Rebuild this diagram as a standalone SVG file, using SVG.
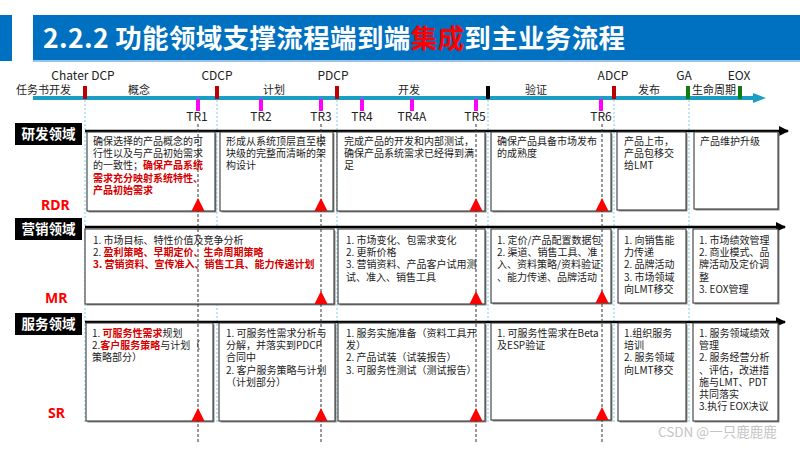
<svg xmlns="http://www.w3.org/2000/svg" width="800" height="450" viewBox="0 0 800 450">
<defs>
<style>
.f{font-family:"Noto Sans CJK SC","Noto Sans",sans-serif}
.t{font-family:"Noto Sans CJK SC","Noto Sans",sans-serif;font-size:10px;fill:#222}
.r{fill:#d40000;font-weight:bold}
.box{fill:#fff;stroke:#3a3a3a;stroke-width:1.1}
.sh{fill:#8c8c8c}
.tri{fill:#ff0000}
.lbl{font-family:"Noto Sans CJK SC","Noto Sans",sans-serif;font-size:12px;fill:#222}
.ph{font-family:"Noto Sans CJK SC","Noto Sans",sans-serif;font-size:11px;fill:#222}
.rowlab{fill:#000}
.rowtxt{font-family:"Noto Sans CJK SC",sans-serif;font-size:13.5px;font-weight:bold;fill:#fff}
.code{font-family:"Noto Sans","Noto Sans CJK SC",sans-serif;font-size:14px;font-weight:bold;fill:#ff0000}
.vb{stroke:#7ccfe6;stroke-width:1;stroke-dasharray:2 2}
.vk{stroke:#333;stroke-width:1;stroke-dasharray:3 2}
.rowline{stroke:#000;stroke-width:2.5}
</style>
<marker id="ah" viewBox="0 0 10 10" refX="9" refY="5" markerWidth="4" markerHeight="4" orient="auto" markerUnits="strokeWidth"><path d="M0,0 L10,5 L0,10 z" fill="#000"/></marker>
</defs>

<g id="header">
<rect x="0" y="15" width="12" height="46" fill="#0070c0"/>
<rect x="33" y="15" width="767" height="46" fill="#0070c0"/>
<rect x="33" y="60" width="767" height="2" fill="#9dc3e6"/>
<text x="43" y="48" class="f" font-size="26.5" letter-spacing="0.35" font-weight="bold" fill="#fff">2.2.2 功能领域支撑流程端到端<tspan fill="#ff0000">集成</tspan>到主业务流程</text>
</g>

<g id="guides">
<line class="vb" x1="85" y1="100" x2="85" y2="422"/>
<line class="vb" x1="217" y1="100" x2="217" y2="422"/>
<line class="vb" x1="337" y1="100" x2="337" y2="422"/>
<line class="vb" x1="488" y1="100" x2="488" y2="422"/>
<line class="vb" x1="614" y1="100" x2="614" y2="422"/>
<line class="vb" x1="689" y1="100" x2="689" y2="422"/>
</g>

<g id="timeline">
<line x1="33" y1="98" x2="756" y2="98" stroke="#1a9ec4" stroke-width="4"/>
<path d="M753,93 L766,98 L753,103 z" fill="#1a9ec4"/>
<rect x="83" y="86" width="4" height="13" fill="#c00000"/>
<rect x="215" y="86" width="4" height="13" fill="#c00000"/>
<rect x="335" y="86" width="4" height="13" fill="#c00000"/>
<rect x="486" y="86" width="4" height="13" fill="#000"/>
<rect x="612" y="86" width="4" height="13" fill="#c00000"/>
<rect x="686" y="86" width="4" height="13" fill="#107c10"/>
<rect x="738" y="86" width="4" height="13" fill="#107c10"/>
<rect x="196" y="99" width="4" height="12" fill="#ff00ff"/>
<rect x="259" y="99" width="4" height="12" fill="#ff00ff"/>
<rect x="319" y="99" width="4" height="12" fill="#ff00ff"/>
<rect x="360" y="99" width="4" height="12" fill="#ff00ff"/>
<rect x="410" y="99" width="4" height="12" fill="#ff00ff"/>
<rect x="474" y="99" width="4" height="12" fill="#ff00ff"/>
<rect x="599" y="99" width="4" height="12" fill="#ff00ff"/>
<text class="lbl" x="83" y="80" text-anchor="middle">Chater DCP</text>
<text class="lbl" x="217" y="80" text-anchor="middle">CDCP</text>
<text class="lbl" x="333" y="80" text-anchor="middle">PDCP</text>
<text class="lbl" x="613" y="80" text-anchor="middle">ADCP</text>
<text class="lbl" x="684" y="80" text-anchor="middle">GA</text>
<text class="lbl" x="739" y="80" text-anchor="middle">EOX</text>
<text class="ph" x="16" y="94">任务书开发</text>
<text class="ph" x="128" y="94">概念</text>
<text class="ph" x="263" y="94">计划</text>
<text class="ph" x="398" y="94">开发</text>
<text class="ph" x="525" y="94">验证</text>
<text class="ph" x="638" y="94">发布</text>
<text class="ph" x="692" y="94">生命周期</text>
<text class="lbl" x="197" y="121" text-anchor="middle">TR1</text>
<text class="lbl" x="261" y="121" text-anchor="middle">TR2</text>
<text class="lbl" x="321" y="121" text-anchor="middle">TR3</text>
<text class="lbl" x="362" y="121" text-anchor="middle">TR4</text>
<text class="lbl" x="412" y="121" text-anchor="middle">TR4A</text>
<text class="lbl" x="475" y="121" text-anchor="middle">TR5</text>
<text class="lbl" x="601" y="121" text-anchor="middle">TR6</text>
</g>

<g id="connectors">
<line class="rowline" x1="85" y1="131" x2="788" y2="131" marker-end="url(#ah)"/>
<line class="rowline" x1="85" y1="227" x2="785" y2="227" marker-end="url(#ah)"/>
<line class="rowline" x1="85" y1="322" x2="785" y2="322" marker-end="url(#ah)"/>
</g>

<g id="lab-rd"><rect class="rowlab" x="15" y="123" width="67" height="22"/><text class="rowtxt" x="48.5" y="139" text-anchor="middle">研发领域</text><text class="code" x="41" y="210">RDR</text></g>
<g id="lab-mk"><rect class="rowlab" x="15" y="218" width="67" height="22"/><text class="rowtxt" x="48.5" y="234" text-anchor="middle">营销领域</text><text class="code" x="45" y="303">MR</text></g>
<g id="lab-sv"><rect class="rowlab" x="15" y="313" width="67" height="22"/><text class="rowtxt" x="48.5" y="329" text-anchor="middle">服务领域</text><text class="code" x="48" y="418">SR</text></g>

<g id="rd1"><rect class="sh" x="88.5" y="133.5" width="128" height="79"/><rect class="box" x="87" y="132" width="128" height="79"/>
<text class="t" x="93" y="145">确保选择的产品概念的可</text>
<text class="t" x="93" y="157.2">行性以及与产品初始需求</text>
<text class="t" x="93" y="169.4">的一致性；<tspan class="r">确保产品系统</tspan></text>
<text class="t r" x="93" y="181.6">需求充分映射系统特性、</text>
<text class="t r" x="93" y="193.8">产品初始需求</text></g>
<g id="rd2"><rect class="sh" x="221.5" y="133.5" width="113" height="79"/><rect class="box" x="220" y="132" width="113" height="79"/>
<text class="t" x="226" y="145">形成从系统顶层直至模</text>
<text class="t" x="226" y="157.2">块级的完整而清晰的架</text>
<text class="t" x="226" y="169.4">构设计</text></g>
<g id="rd3"><rect class="sh" x="338.5" y="133.5" width="148" height="79"/><rect class="box" x="337" y="132" width="148" height="79"/>
<text class="t" x="344" y="145">完成产品的开发和内部测试，</text>
<text class="t" x="344" y="157.2">确保产品系统需求已经得到满</text>
<text class="t" x="344" y="169.4">足</text></g>
<g id="rd4"><rect class="sh" x="492.5" y="133.5" width="120" height="79"/><rect class="box" x="491" y="132" width="120" height="79"/>
<text class="t" x="497" y="145">确保产品具备市场发布</text>
<text class="t" x="497" y="157.2">的成熟度</text></g>
<g id="rd5"><rect class="sh" x="618.5" y="133.5" width="69" height="78"/><rect class="box" x="617" y="132" width="69" height="78"/>
<text class="t" x="624" y="145">产品上市，</text>
<text class="t" x="624" y="157.2">产品包移交</text>
<text class="t" x="624" y="169.4">给LMT</text></g>
<g id="rd6"><rect class="sh" x="695.5" y="133.5" width="84" height="77"/><rect class="box" x="694" y="132" width="84" height="77"/>
<text class="t" x="700" y="145">产品维护升级</text></g>

<g id="mk1"><rect class="sh" x="86.5" y="230.5" width="249" height="75"/><rect class="box" x="85" y="229" width="249" height="75"/>
<text class="t" x="93" y="244">1. 市场目标、特性价值及竞争分析</text>
<text class="t" x="93" y="256.2">2. <tspan class="r">盈利策略、早期定价、生命周期策略</tspan></text>
<text class="t r" x="93" y="268.4">3. 营销资料、宣传准入、销售工具、能力传递计划</text></g>
<g id="mk2"><rect class="sh" x="339.5" y="230.5" width="147" height="75"/><rect class="box" x="338" y="229" width="147" height="75"/>
<text class="t" x="346" y="244">1. 市场变化、包需求变化</text>
<text class="t" x="346" y="256.2">2. 更新价格</text>
<text class="t" x="346" y="268.4">3. 营销资料、产品客户试用测</text>
<text class="t" x="346" y="280.6">试、准入、销售工具</text></g>
<g id="mk3"><rect class="sh" x="492.5" y="230.5" width="120" height="74"/><rect class="box" x="491" y="229" width="120" height="74"/>
<text class="t" x="497" y="244">1. 定价/产品配置数据包</text>
<text class="t" x="497" y="256.2">2. 渠道、销售工具、准</text>
<text class="t" x="497" y="268.4">入、资料策略/资料验证</text>
<text class="t" x="497" y="280.6">、能力传递、品牌活动</text></g>
<g id="mk4"><rect class="sh" x="619.5" y="230.5" width="68" height="74"/><rect class="box" x="618" y="229" width="68" height="74"/>
<text class="t" x="624" y="244">1. 向销售能</text>
<text class="t" x="624" y="256.2">力传递</text>
<text class="t" x="624" y="268.4">2. 品牌活动</text>
<text class="t" x="624" y="280.6">3. 市场领域</text>
<text class="t" x="624" y="292.8">向LMT移交</text></g>
<g id="mk5"><rect class="sh" x="694.5" y="230.5" width="85" height="74"/><rect class="box" x="693" y="229" width="85" height="74"/>
<text class="t" x="699" y="244">1. 市场绩效管理</text>
<text class="t" x="699" y="256.2">2. 商业模式、品</text>
<text class="t" x="699" y="268.4">牌活动及定价调</text>
<text class="t" x="699" y="280.6">整</text>
<text class="t" x="699" y="292.8">3. EOX管理</text></g>

<g id="sv1"><rect class="sh" x="87.5" y="324.5" width="127" height="98"/><rect class="box" x="86" y="323" width="127" height="98"/>
<text class="t" x="92" y="337">1. <tspan class="r">可服务性需求</tspan>规划</text>
<text class="t" x="92" y="349.2">2.<tspan class="r">客户服务策略</tspan>与计划（</text>
<text class="t" x="92" y="361.4">策略部分）</text></g>
<g id="sv2"><rect class="sh" x="220.5" y="324.5" width="116" height="98"/><rect class="box" x="219" y="323" width="116" height="98"/>
<text class="t" x="226" y="337">1. 可服务性需求分析与</text>
<text class="t" x="226" y="349.2">分解，并落实到PDCP</text>
<text class="t" x="226" y="361.4">合同中</text>
<text class="t" x="226" y="373.6">2. 客户服务策略与计划</text>
<text class="t" x="226" y="385.8">（计划部分）</text></g>
<g id="sv3"><rect class="sh" x="339.5" y="324.5" width="147" height="98"/><rect class="box" x="338" y="323" width="147" height="98"/>
<text class="t" x="346" y="337">1. 服务实施准备（资料工具开</text>
<text class="t" x="346" y="349.2">发）</text>
<text class="t" x="346" y="361.4">2. 产品试装（试装报告）</text>
<text class="t" x="346" y="373.6">3. 可服务性测试（测试报告）</text></g>
<g id="sv4"><rect class="sh" x="492.5" y="324.5" width="120" height="97"/><rect class="box" x="491" y="323" width="120" height="97"/>
<text class="t" x="497" y="337">1. 可服务性需求在Beta</text>
<text class="t" x="497" y="349.2">及ESP验证</text></g>
<g id="sv5"><rect class="sh" x="619.5" y="324.5" width="68" height="98"/><rect class="box" x="618" y="323" width="68" height="98"/>
<text class="t" x="624" y="337">1.组织服务</text>
<text class="t" x="624" y="349.2">培训</text>
<text class="t" x="624" y="361.4">2. 服务领域</text>
<text class="t" x="624" y="373.6">向LMT移交</text></g>
<g id="sv6"><rect class="sh" x="694.5" y="324.5" width="85" height="98"/><rect class="box" x="693" y="323" width="85" height="98"/>
<text class="t" x="699" y="337">1. 服务领域绩效</text>
<text class="t" x="699" y="349.2">管理</text>
<text class="t" x="699" y="361.4">2. 服务经营分析</text>
<text class="t" x="699" y="373.6">、评估，改进措</text>
<text class="t" x="699" y="385.8">施与LMT、PDT</text>
<text class="t" x="699" y="398">共同落实</text>
<text class="t" x="699" y="410.2">3.执行 EOX决议</text></g>

<g id="tr-lines">
<line class="vk" x1="198" y1="124" x2="198" y2="444"/>
<line class="vk" x1="321" y1="124" x2="321" y2="444"/>
<line class="vk" x1="476" y1="124" x2="476" y2="444"/>
<line class="vk" x1="602" y1="124" x2="602" y2="444"/>
</g>

<g id="triangles">
<path class="tri" d="M191.5,211 L204.5,211 L198,198 z"/>
<path class="tri" d="M314.5,211 L327.5,211 L321,198 z"/>
<path class="tri" d="M469.5,211 L482.5,211 L476,198 z"/>
<path class="tri" d="M595.5,211 L608.5,211 L602,198 z"/>
<path class="tri" d="M314.5,304 L327.5,304 L321,291 z"/>
<path class="tri" d="M469.5,304 L482.5,304 L476,291 z"/>
<path class="tri" d="M595.5,303 L608.5,303 L602,290 z"/>
<path class="tri" d="M191.5,421 L204.5,421 L198,408 z"/>
<path class="tri" d="M314.5,421 L327.5,421 L321,408 z"/>
<path class="tri" d="M469.5,421 L482.5,421 L476,408 z"/>
<path class="tri" d="M595.5,420 L608.5,420 L602,407 z"/>
</g>

<text x="658" y="437" class="f" font-size="13.5" fill="#c4c4c4">CSDN @一只鹿鹿鹿</text>
</svg>
